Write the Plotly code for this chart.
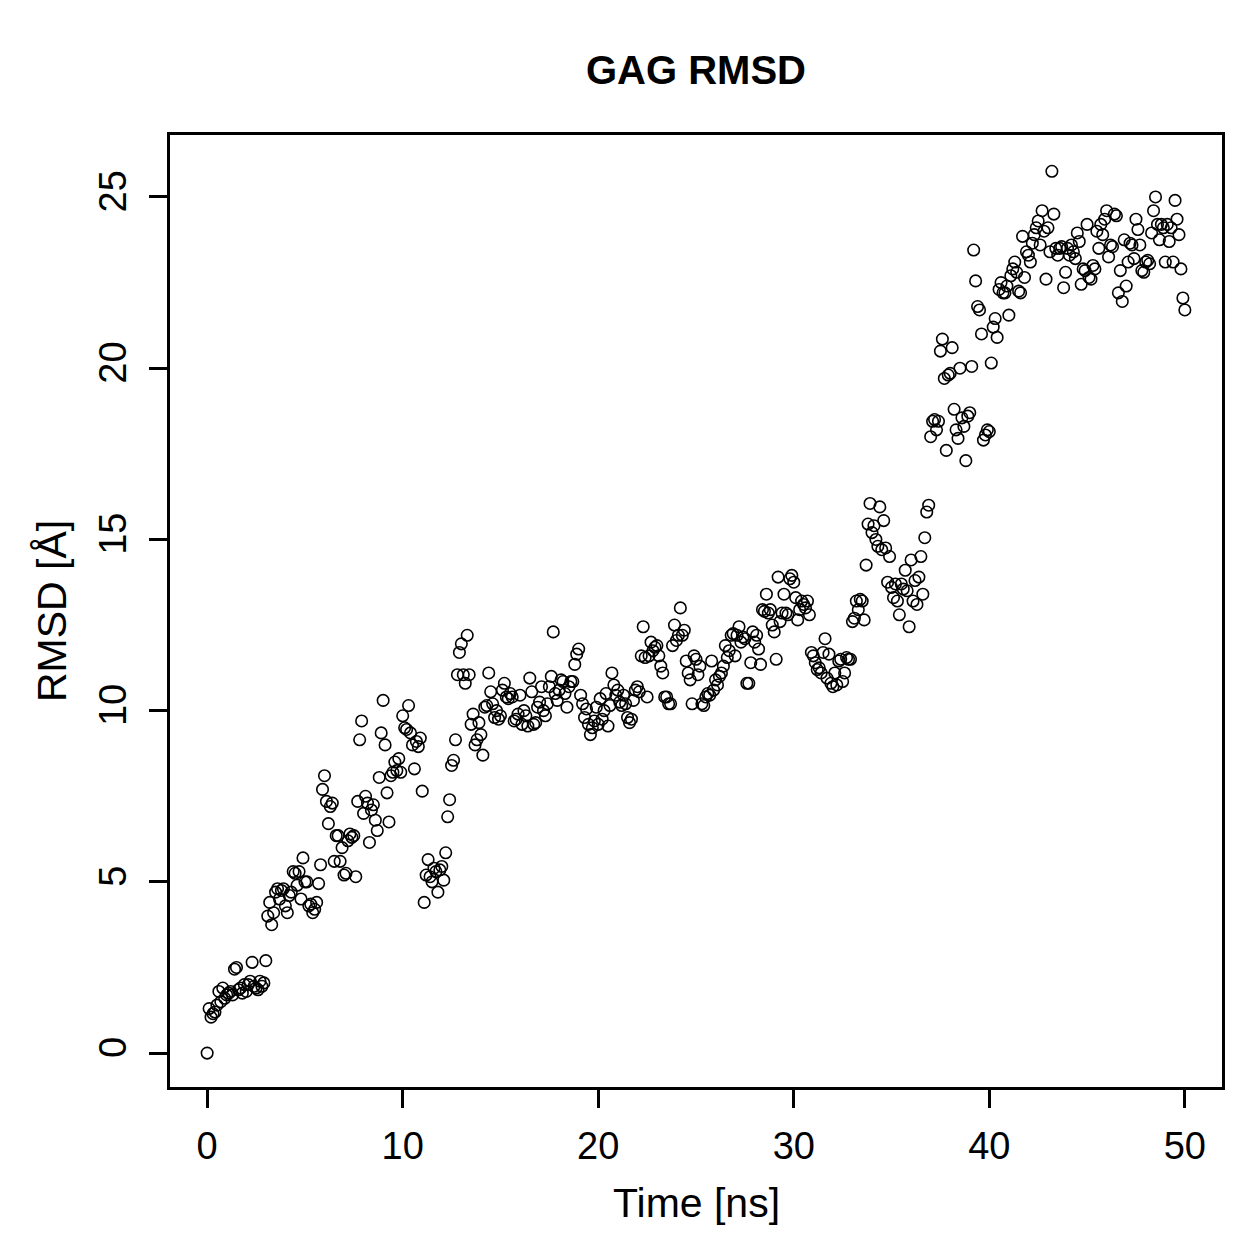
import plotly.graph_objects as go

title_text = "GAG RMSD"
x_label = "Time [ns]"
y_label = "RMSD [Å]"
x_ticks = [0, 10, 20, 30, 40, 50]
y_ticks = [0, 5, 10, 15, 20, 25]

rmsd_00_10 = [0.0, 1.3, 1.05, 1.15, 1.2, 1.4, 1.8, 1.5, 1.9, 1.6, 1.7]
rmsd_10_20 = [1.75, 1.8, 1.7, 2.45, 2.5, 1.85, 1.9, 1.75, 2.0, 1.8]
rmsd_20_30 = [2.0, 2.1, 2.65, 1.95, 1.9, 1.85, 2.1, 1.95, 2.05, 2.7]
rmsd_30_40 = [4.0, 4.4, 3.75, 4.1, 4.7, 4.8, 4.5, 4.75, 4.8, 4.3]
rmsd_40_50 = [4.1, 4.6, 4.7, 5.3, 5.25, 4.9, 5.3, 4.5, 5.7, 5.0]
rmsd_50_60 = [5.0, 4.3, 4.35, 4.1, 4.2, 4.4, 4.95, 5.5, 7.7, 8.1]
rmsd_60_70 = [7.35, 6.7, 7.2, 7.3, 5.6, 6.35, 6.35, 5.6, 6.0, 5.2]
rmsd_70_80 = [5.25, 6.2, 6.4, 6.3, 6.35, 5.15, 7.35, 9.15, 9.7, 7.0]
rmsd_80_90 = [7.5, 7.3, 6.15, 7.1, 7.25, 6.8, 6.5, 8.05, 9.35, 10.3]
rmsd_90_100 = [9.0, 7.6, 6.75, 8.1, 8.2, 8.5, 8.25, 8.6, 8.2, 9.85]
rmsd_100_110 = [9.5, 9.45, 10.15, 9.35, 9.0, 8.3, 9.1, 8.95, 9.2, 7.65]
rmsd_110_120 = [4.4, 5.2, 5.65, 5.15, 5.0, 5.4, 5.3, 4.7, 5.35, 5.45]
rmsd_120_130 = [5.05, 5.85, 6.9, 7.4, 8.4, 8.55, 9.15, 11.05, 11.7, 11.95]
rmsd_130_140 = [11.05, 10.8, 12.2, 11.05, 9.6, 9.9, 9.0, 9.15, 9.65, 9.3]
rmsd_140_150 = [8.7, 10.1, 10.15, 11.1, 10.55, 10.2, 9.8, 10.0, 9.75, 9.85]
rmsd_150_160 = [10.6, 10.8, 10.4, 10.35, 10.5, 10.4, 9.7, 9.75, 9.9, 10.45]
rmsd_160_170 = [9.6, 10.0, 9.85, 9.55, 10.95, 10.55, 9.6, 9.65, 10.1, 10.25]
rmsd_170_180 = [10.7, 10.0, 9.85, 10.2, 10.7, 11.0, 12.3, 10.5, 10.3, 10.6]
rmsd_180_190 = [10.9, 10.85, 10.5, 10.1, 10.7, 10.85, 10.85, 11.35, 11.65, 11.8]
rmsd_190_200 = [10.45, 10.2, 9.8, 10.05, 9.6, 9.3, 9.5, 9.7, 10.1, 9.6]
rmsd_200_210 = [10.35, 9.75, 10.0, 10.5, 9.55, 10.15, 11.1, 10.75, 10.45, 10.6]
rmsd_210_220 = [10.25, 10.15, 10.45, 10.2, 9.8, 9.65, 9.75, 10.3, 10.6, 10.7]
rmsd_220_230 = [10.55, 11.6, 12.45, 11.55, 10.4, 11.6, 12.0, 11.75, 11.85, 11.9]
rmsd_230_240 = [11.6, 11.3, 11.1, 10.4, 10.4, 10.2, 10.2, 11.9, 12.5, 12.05]
rmsd_240_250 = [12.2, 13.0, 12.2, 12.35, 11.45, 11.1, 10.9, 10.2, 11.6, 11.5]
rmsd_250_260 = [11.05, 11.3, 10.2, 10.15, 10.4, 10.5, 10.45, 11.45, 10.6, 10.9]
rmsd_260_270 = [10.75, 11.0, 11.1, 11.3, 11.9, 11.55, 11.75, 12.2, 12.25, 11.6]
rmsd_270_280 = [12.2, 12.45, 12.0, 12.15, 12.1, 10.8, 10.8, 11.4, 12.3, 12.0]
rmsd_280_290 = [12.2, 11.8, 11.35, 12.95, 12.9, 13.4, 12.85, 12.95, 12.5, 12.3]
rmsd_290_300 = [11.5, 13.9, 12.6, 12.85, 13.4, 12.85, 12.8, 13.85, 13.95, 13.75]
rmsd_300_310 = [13.3, 12.65, 12.95, 13.2, 13.1, 13.0, 13.2, 12.8, 11.7, 11.6]
rmsd_310_320 = [11.4, 11.2, 11.25, 11.1, 11.7, 12.1, 10.95, 11.65, 10.8, 10.7]
rmsd_320_330 = [11.1, 10.75, 11.45, 11.5, 10.85, 11.1, 11.55, 11.5, 11.5, 12.6]
rmsd_330_340 = [12.7, 13.2, 12.95, 13.25, 13.2, 12.65, 14.25, 15.45, 16.05, 15.2]
rmsd_340_350 = [15.4, 15.0, 14.8, 15.95, 14.7, 15.55, 14.75, 13.75, 14.5, 13.6]
rmsd_350_360 = [13.3, 13.7, 13.2, 12.8, 13.7, 13.55, 14.1, 13.5, 12.45, 14.4]
rmsd_360_370 = [13.2, 13.8, 13.1, 13.9, 14.5, 13.4, 15.05, 15.8, 16.0, 18.0]
rmsd_370_380 = [18.45, 18.5, 18.2, 18.45, 20.5, 20.85, 19.7, 17.6, 19.8, 19.85]
rmsd_380_390 = [20.6, 18.8, 18.2, 17.95, 20.0, 18.55, 18.3, 17.3, 18.6, 18.7]
rmsd_390_400 = [20.05, 23.45, 22.55, 21.8, 21.7, 21.0, 17.9, 18.05, 18.2, 18.15]
rmsd_400_410 = [20.15, 21.2, 21.45, 20.9, 22.3, 22.5, 22.2, 22.2, 22.4, 21.55]
rmsd_410_420 = [22.7, 22.9, 23.1, 22.8, 22.25, 22.2, 23.85, 22.65, 23.4, 23.3]
rmsd_420_430 = [23.1, 23.65, 23.9, 24.1, 24.3, 23.6, 24.6, 24.0, 22.6, 24.1]
rmsd_430_440 = [23.4, 25.75, 24.5, 23.5, 23.3, 23.5, 23.55, 22.35, 22.8, 23.5]
rmsd_440_450 = [23.3, 23.6, 23.4, 23.2, 23.95, 23.7, 22.45, 22.9, 22.85, 24.2]
rmsd_450_460 = [22.65, 22.6, 23.0, 22.9, 24.0, 23.5, 24.2, 23.9, 24.35, 24.6]
rmsd_460_470 = [23.25, 23.6, 23.55, 24.5, 24.45, 22.2, 22.85, 21.95, 23.75, 22.4]
rmsd_470_480 = [23.1, 23.65, 23.6, 23.2, 24.35, 24.05, 23.6, 22.85, 22.8, 23.1]
rmsd_480_490 = [23.15, 23.05, 23.95, 24.6, 25.0, 24.2, 23.75, 24.2, 24.1, 23.1]
rmsd_490_500 = [24.2, 23.7, 24.1, 23.1, 24.9, 24.35, 23.9, 22.9, 22.05, 21.7]

rmsd = (rmsd_00_10 + rmsd_10_20 + rmsd_20_30 + rmsd_30_40 + rmsd_40_50
        + rmsd_50_60 + rmsd_60_70 + rmsd_70_80 + rmsd_80_90 + rmsd_90_100
        + rmsd_100_110 + rmsd_110_120 + rmsd_120_130 + rmsd_130_140 + rmsd_140_150
        + rmsd_150_160 + rmsd_160_170 + rmsd_170_180 + rmsd_180_190 + rmsd_190_200
        + rmsd_200_210 + rmsd_210_220 + rmsd_220_230 + rmsd_230_240 + rmsd_240_250
        + rmsd_250_260 + rmsd_260_270 + rmsd_270_280 + rmsd_280_290 + rmsd_290_300
        + rmsd_300_310 + rmsd_310_320 + rmsd_320_330 + rmsd_330_340 + rmsd_340_350
        + rmsd_350_360 + rmsd_360_370 + rmsd_370_380 + rmsd_380_390 + rmsd_390_400
        + rmsd_400_410 + rmsd_410_420 + rmsd_420_430 + rmsd_430_440 + rmsd_440_450
        + rmsd_450_460 + rmsd_460_470 + rmsd_470_480 + rmsd_480_490 + rmsd_490_500)

time_ns = [round(i * 0.1, 1) for i in range(len(rmsd))]

FONT = "Liberation Sans, Arial, sans-serif"

fig = go.Figure()
fig.add_trace(go.Scatter(
    x=time_ns, y=rmsd, mode="markers",
    marker=dict(symbol="circle-open", size=11.5, color="black",
                line=dict(width=1.6, color="black")),
    showlegend=False, hoverinfo="x+y",
))

fig.update_layout(
    width=1259, height=1259,
    paper_bgcolor="white", plot_bgcolor="white",
    margin=dict(l=170, r=37, t=135, b=172, autoexpand=False),
    font=dict(family=FONT, size=36, color="black"),
    title=dict(text="<b>" + title_text + "</b>", x=0.5528, xanchor="center",
               y=1 - 70 / 1259, yanchor="middle", yref="container",
               font=dict(family=FONT, size=40, color="black")),
    annotations=[
        dict(text=x_label, xref="paper", yref="paper", x=0.5, y=(1087 - 1203) / 952,
             xanchor="center", yanchor="middle", showarrow=False,
             font=dict(family=FONT, size=41, color="black")),
        dict(text=y_label, xref="paper", yref="paper", x=(52 - 170) / 1052, y=0.5,
             xanchor="center", yanchor="middle", showarrow=False, textangle=-90,
             font=dict(family=FONT, size=41, color="black")),
    ],
)

fig.update_xaxes(
    range=[-1.9, 51.9], tickvals=x_ticks, ticktext=[str(v) for v in x_ticks],
    showgrid=False, zeroline=False, showline=True, mirror=True,
    linecolor="black", linewidth=2.5, ticks="outside", ticklen=18, tickwidth=2.5,
    tickcolor="black", tickfont=dict(family=FONT, size=38, color="black"),
    ticklabelstandoff=6,
)
fig.update_yaxes(
    range=[-0.99, 26.81], tickvals=y_ticks, ticktext=[str(v) for v in y_ticks],
    showgrid=False, zeroline=False, showline=True, mirror=True,
    linecolor="black", linewidth=2.5, ticks="outside", ticklen=18, tickwidth=2.5,
    tickcolor="black", tickfont=dict(family=FONT, size=38, color="black"),
    tickangle=-90, ticklabelstandoff=8,
)

fig.write_html("out.html")
